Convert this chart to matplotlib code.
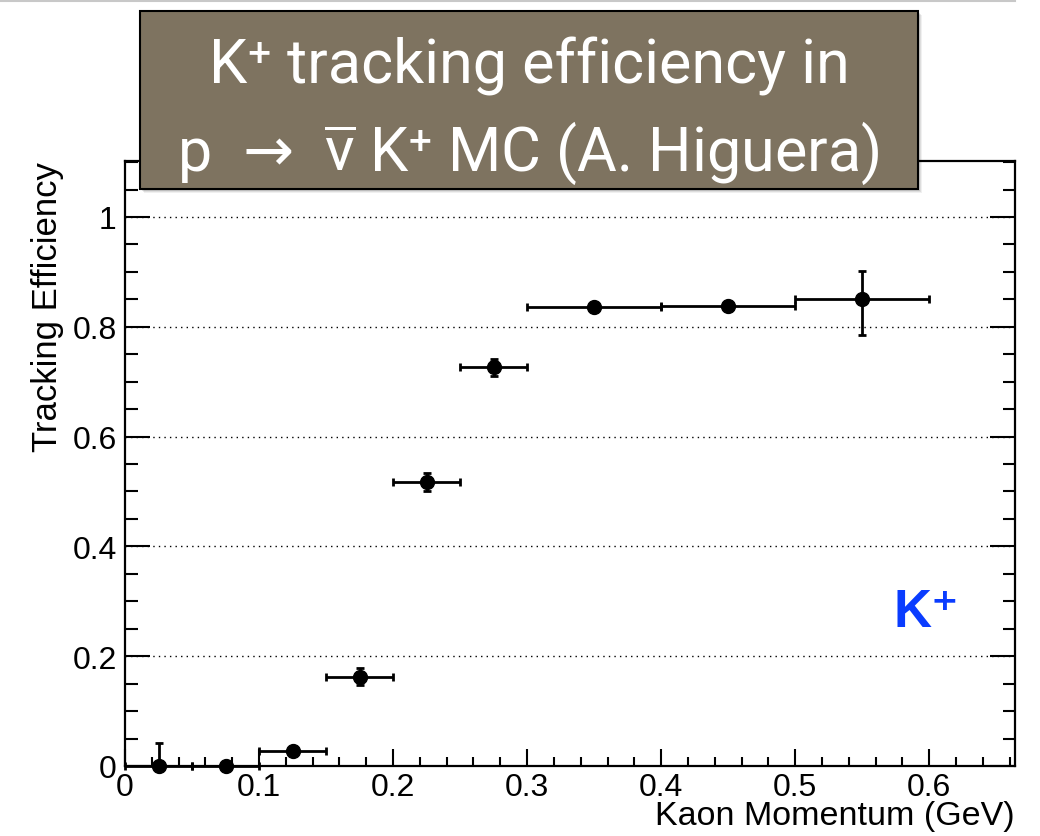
import matplotlib
matplotlib.use("Agg")
import matplotlib.pyplot as plt
from matplotlib.patches import Rectangle
from matplotlib.lines import Line2D
from matplotlib.ticker import MultipleLocator, FixedLocator

# ---- data ----
momentum = [0.025, 0.075, 0.125, 0.175, 0.225, 0.275, 0.35, 0.45, 0.55]
bin_half_width = [0.025, 0.025, 0.025, 0.025, 0.025, 0.025, 0.05, 0.05, 0.05]
efficiency = [0.0, 0.0, 0.027, 0.163, 0.517, 0.726, 0.836, 0.838, 0.851]
err_low = [0.0, 0.0, 0.004, 0.015, 0.016, 0.015, 0.005, 0.005, 0.066]
err_high = [0.042, 0.0, 0.004, 0.015, 0.016, 0.015, 0.005, 0.005, 0.051]
x_ticks = [0, 0.1, 0.2, 0.3, 0.4, 0.5, 0.6]
x_ticklabels = ["0", "0.1", "0.2", "0.3", "0.4", "0.5", "0.6"]
y_ticks = [0, 0.2, 0.4, 0.6, 0.8, 1.0]
y_ticklabels = ["0", "0.2", "0.4", "0.6", "0.8", "1"]

plt.rcParams['font.family'] = ['Liberation Sans', 'DejaVu Sans']
plt.rcParams['mathtext.fontset'] = 'custom'
plt.rcParams['mathtext.rm'] = 'Roboto'
plt.rcParams['mathtext.it'] = 'Roboto'
plt.rcParams['mathtext.bf'] = 'Roboto:bold'
plt.rcParams['mathtext.fallback'] = 'stixsans'

fig = plt.figure(figsize=(10.4, 8.37), dpi=100)
ax = fig.add_axes([125/1040, 1-767/837, 890/1040, 605/837])

ax.set_xlim(0, 0.664)
ax.set_ylim(0, 1.102)

ax.errorbar(momentum, efficiency, xerr=bin_half_width, yerr=[err_low, err_high],
            fmt='o', color='black', markersize=10, elinewidth=2, capsize=3,
            capthick=2, clip_on=False, zorder=3)

ax.xaxis.set_major_locator(FixedLocator(x_ticks))
ax.set_xticklabels(x_ticklabels)
ax.xaxis.set_minor_locator(MultipleLocator(0.02))
ax.yaxis.set_major_locator(FixedLocator(y_ticks))
ax.set_yticklabels(y_ticklabels)
ax.yaxis.set_minor_locator(MultipleLocator(0.05))

ax.tick_params(axis='both', which='both', direction='in', width=1.5, labelsize=23)
ax.tick_params(axis='x', which='major', length=12, pad=4)
ax.tick_params(axis='x', which='minor', length=6.5)
ax.tick_params(axis='y', which='major', length=18, pad=6, right=True)
ax.tick_params(axis='y', which='minor', length=9, right=True)
ax.tick_params(axis='x', which='both', top=False)

for s in ax.spines.values():
    s.set_linewidth(1.6)
    s.set_zorder(4)

ax.yaxis.grid(True, which='major', color='black', linestyle=(0, (1, 3)), linewidth=1)
ax.set_axisbelow(True)

ax.set_xlabel("Kaon Momentum (GeV)", fontsize=24.5, loc='right', labelpad=-1)
ax.set_ylabel("Tracking Efficiency", fontsize=25, loc='top', labelpad=6)

ax.text(0.598, 0.28, 'K\u207a', color='#0a3cff', fontsize=38,
        fontweight='bold', ha='center', va='center', transform=ax.transData)

# top gray rule
fig.add_artist(Line2D([0, 1015/1040], [1-2/837, 1-2/837], color='#c8c8c8', lw=1.5))

# title box with shadow
bx, by, bw, bh = 140/1040, 1-190/837, 778/1040, 178/837
for i, a in enumerate([0.10, 0.08, 0.06]):
    off = (i + 2) / 1040
    fig.add_artist(Rectangle((bx + off, by - off * 1040/837), bw, bh,
                             transform=fig.transFigure, facecolor='black',
                             alpha=a, edgecolor='none', zorder=8))
fig.add_artist(Rectangle((bx, by), bw, bh, transform=fig.transFigure,
                         facecolor='#7e7360', edgecolor='black', lw=1.5, zorder=9))
title_fam = ['Roboto', 'DejaVu Sans']
fig.text(bx + bw/2, 1-66/837, 'K\u207a tracking efficiency in', color='white',
         fontsize=44, ha='center', va='center', zorder=10, family=title_fam)

# second line built from pieces so the arrow comes from DejaVu Sans
pieces = [('p  ', title_fam), ('\u2192', ['DejaVu Sans']),
          ('  ' + r'$\overline{\mathrm{\nu}}$' + ' K\u207a MC (A. Higuera)', title_fam)]
renderer = fig.canvas.get_renderer()
texts = []
for s, fam in pieces:
    t = fig.text(0, 0, s, color='white', fontsize=44, ha='left', va='baseline',
                 zorder=10, family=fam)
    texts.append(t)
widths = [t.get_window_extent(renderer).width / fig.bbox.width for t in texts]
x0 = bx + bw/2 - sum(widths)/2
yb = 1 - 171/837
for t, w in zip(texts, widths):
    t.set_position((x0, yb))
    x0 += w

fig.savefig("out.png", dpi=100)
